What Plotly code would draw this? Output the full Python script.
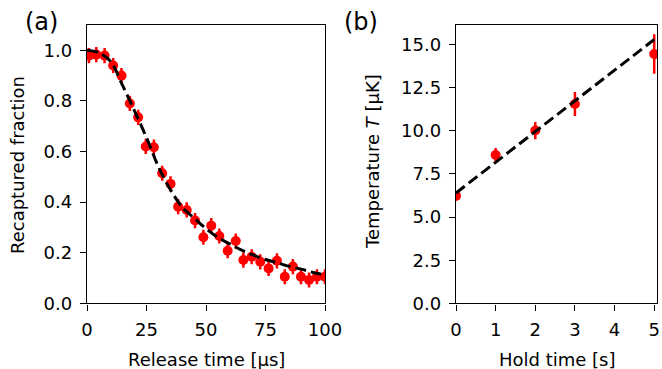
import plotly.graph_objects as go

# (a) release-recapture data
release_t = [0.8, 3.9, 7.4, 11.0, 14.5, 18.0, 21.5, 24.7, 28.1, 31.6,
             35.1, 38.3, 41.9, 45.4, 48.9, 52.2, 55.6, 59.1, 62.5, 65.7,
             69.2, 72.8, 76.3, 79.8, 83.1, 86.5, 89.9, 93.3, 96.6, 100.0]
recap = [0.979, 0.983, 0.979, 0.940, 0.900, 0.790, 0.735, 0.620, 0.617, 0.514,
         0.472, 0.382, 0.369, 0.327, 0.261, 0.307, 0.266, 0.208, 0.246, 0.171,
         0.184, 0.164, 0.138, 0.168, 0.105, 0.145, 0.105, 0.092, 0.105, 0.105]
recap_err = [0.03] * len(recap)

fit_t = [0, 5, 10, 15, 20, 25, 30, 35, 40, 45, 50, 55, 60, 65, 70, 75, 80, 85, 90, 95, 100]
fit_recap = [1.0, 0.99, 0.955, 0.86, 0.76, 0.655, 0.54, 0.45, 0.38, 0.337, 0.295,
             0.26, 0.235, 0.21, 0.19, 0.173, 0.16, 0.146, 0.135, 0.122, 0.112]

# (b) temperature vs hold time
hold_t = [0, 1, 2, 3, 5]
temp = [6.23, 8.60, 10.02, 11.56, 14.46]
temp_err = [0.15, 0.4, 0.5, 0.7, 1.15]
fit_hold = [0, 5]
fit_temp = [6.4, 15.3]

RED = "#ff0000"
FONT = "DejaVu Sans"

W, H = 662, 369


def px(x):
    return x / W


def py(y):
    return 1 - y / H


fig = go.Figure()

fig.add_trace(go.Scatter(
    x=release_t, y=recap, mode="markers",
    error_y=dict(type="data", array=recap_err, color=RED, thickness=2.5, width=0),
    marker=dict(color=RED, size=10), xaxis="x", yaxis="y"
))
fig.add_trace(go.Scatter(
    x=fit_t, y=fit_recap, mode="lines",
    line=dict(color="black", width=3, dash="11px,5px", shape="spline"),
    xaxis="x", yaxis="y"
))
fig.add_trace(go.Scatter(
    x=hold_t, y=temp, mode="markers",
    error_y=dict(type="data", array=temp_err, color=RED, thickness=2.5, width=0),
    marker=dict(color=RED, size=10), xaxis="x2", yaxis="y2"
))
fig.add_trace(go.Scatter(
    x=fit_hold, y=fit_temp, mode="lines",
    line=dict(color="black", width=3, dash="11px,5px"),
    xaxis="x2", yaxis="y2"
))

ax_common = dict(showline=True, linecolor="black", linewidth=1.4, mirror=True,
                 ticks="outside", ticklen=6, tickwidth=1.4, tickcolor="black",
                 showgrid=False, zeroline=False, ticklabelstandoff=4,
                 automargin=False,
                 tickfont=dict(family=FONT, size=18, color="black"))

ybot = py(303.3)
ytop = py(25)

fig.update_layout(
    width=W, height=H,
    margin=dict(l=0, r=0, t=0, b=0, pad=0),
    paper_bgcolor="white", plot_bgcolor="white",
    showlegend=False,
    xaxis=dict(domain=[px(87), px(325)], range=[0, 100],
               tickvals=[0, 25, 50, 75, 100], anchor="y", **ax_common),
    yaxis=dict(domain=[ybot, ytop], range=[0, 1.1],
               tickvals=[0, 0.2, 0.4, 0.6, 0.8, 1.0], tickformat=".1f",
               anchor="x", **ax_common),
    xaxis2=dict(domain=[px(456), px(657)], range=[0, 5.07],
                tickvals=[0, 1, 2, 3, 4, 5], anchor="y2", **ax_common),
    yaxis2=dict(domain=[ybot, ytop], range=[0, 16.14],
                tickvals=[0, 2.5, 5, 7.5, 10, 12.5, 15], tickformat=".1f",
                anchor="x2", **ax_common),
)

lab = dict(family=FONT, size=18, color="black")
big = dict(family=FONT, size=24, color="black")
notes = [
    (206, 359, "Release time [μs]", 0, lab),
    (557, 359, "Hold time [s]", 0, lab),
    (17, 165, "Recaptured fraction", -90, lab),
    (373, 162, "Temperature <i>T</i> [μK]", -90, lab),
    (41, 22, "(a)", 0, big),
    (361, 22, "(b)", 0, big),
]
for x, y, text, ang, font in notes:
    fig.add_annotation(x=px(x), y=py(y), xref="paper", yref="paper",
                       xanchor="center", yanchor="middle",
                       text=text, textangle=ang, showarrow=False, font=font)

# drop the default body margin so the figure sits at the window's corner
fig.write_html("out.html", config={"displayModeBar": False}, post_script=(
    "document.documentElement.style.margin='0';"
    "document.body.style.margin='0';"
    "document.body.style.overflow='hidden';"
))
